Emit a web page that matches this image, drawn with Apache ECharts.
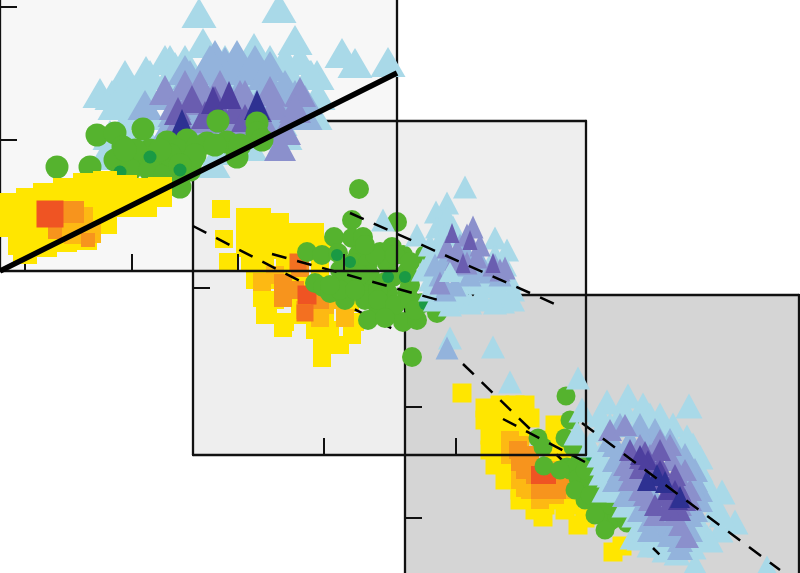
<!DOCTYPE html>
<html><head><meta charset="utf-8">
<style>html,body{margin:0;padding:0;background:#fff}#c{width:800px;height:573px}</style>
<script src="https://cdn.jsdelivr.net/npm/echarts@6/dist/echarts.min.js"></script>
</head><body><div id="c"></div>
<script>
// Panel 1 ticks
const p1XTicks=[25,132,238,344], p1YTicks=[131,264];
const p2XTicks=[131,263], p2YTicks=[167];
const p3XTicks=[], p3YTicks=[111,222];

// Panel 1 values
const p1Light=[[199,258],[279,263],[295,231],[342,218],[355,208],[388,209],[203,228],[254,223],[146,200],[100,178],[112,176],[317,196],[125,196],[150,196],[170,196],[190,196],[215,196],[240,196],[265,196],[290,196],[310,196],[130,176],[150,176],[175,176],[200,176],[225,176],[250,176],[280,176],[300,176],[318,176],[130,156],[150,156],[170,156],[195,156],[220,156],[245,156],[270,156],[300,156],[315,156],[110,136],[125,136],[145,136],[170,136],[195,136],[220,136],[250,136],[285,136],[110,121],[130,121],[160,121],[190,121],[220,121],[170,211],[185,211],[225,211],[270,211],[285,211],[300,211],[105,116],[213,108],[250,125],[280,150],[165,211],[175,204],[125,186],[135,181],[115,166],[130,166],[311,196]];
const p1Mid=[[237,201],[225,209],[190,196],[205,201],[250,201],[265,196],[165,176],[145,166],[190,181],[215,181],[240,181],[265,181],[285,186],[295,176],[305,171],[175,159],[200,163],[230,161],[260,166],[285,161],[305,156],[170,146],[195,146],[225,143],[250,143],[275,146],[237,216],[215,216],[185,201],[210,211],[255,211],[270,205]];
const p1Peri=[[165,181],[175,166],[190,171],[205,176],[220,186],[240,176],[300,179],[275,166],[295,163],[180,151],[205,153],[225,153],[250,159],[265,146],[240,141],[285,141],[185,186],[200,186],[210,161],[245,176],[270,180],[280,125]];
const p1Purple=[[192,172],[215,171],[205,156],[235,161],[258,163],[245,153],[178,160]];
const p1Deep=[[213,171],[229,176]];
const p1Dark=[[257,166],[182,147]];
const p1Green=[[97,136],[115,138],[143,142],[218,150],[257,148],[57,104],[90,104],[132,114],[123,124],[147,108],[167,129],[165,108],[187,131],[207,128],[227,129],[257,138],[262,131],[237,114],[192,111],[180,84],[120,108],[140,111],[177,121],[150,121],[197,124],[125,96],[180,96],[135,121],[115,111],[130,101],[150,101],[165,96],[190,101],[170,116],[195,116],[215,126],[240,126],[180,106],[160,121],[125,121]];
const p1GreenDark=[[150,114],[180,101],[120,99]];
const p1Yellow=[[10,66],[10,46],[20,28],[28,71],[28,51],[28,31],[25,19],[45,76],[45,56],[45,36],[45,26],[65,81],[65,61],[65,41],[65,31],[85,86],[85,66],[85,46],[85,33],[105,88],[105,68],[105,49],[125,84],[125,66],[145,81],[145,66],[160,82],[160,76]];
const p1Amber=[[82,53],[75,38],[90,39],[60,43]];
const p1Orange=[[73,59]];
const p1OrangeSmall=[[55,39],[88,31]];
const p1Red=[[50,57]];
const p1Boundary=[[0,0],[397,198]];

// Panel 2 values
const p2Yellow=[[28,246],[31,216],[35,193],[52,238],[69,238],[87,233],[52,223],[69,223],[87,221],[105,223],[122,223],[52,207],[69,207],[87,205],[105,207],[122,207],[132,208],[57,193],[72,193],[92,190],[107,190],[127,193],[62,175],[77,175],[92,175],[107,173],[127,175],[147,170],[69,157],[82,155],[97,157],[117,155],[137,155],[157,152],[75,142],[92,133],[107,140],[132,140],[152,140],[162,133],[122,125],[137,125],[159,120],[129,110],[147,110],[129,97],[90,127],[72,140]];
const p2Amber=[[69,173],[82,180],[97,165],[112,145],[132,150],[147,155],[127,137],[152,137]];
const p2Orange=[[90,172],[102,165],[90,157],[127,155],[107,187]];
const p2OrangeRed=[[105,193],[112,142]];
const p2Red=[[114,160]];
const p2Green=[[166,266],[159,235],[204,233],[141,218],[159,217],[170,218],[114,203],[129,200],[145,202],[165,200],[187,203],[199,208],[210,200],[160,192],[175,192],[194,192],[214,183],[122,172],[130,168],[137,162],[152,155],[154,172],[172,165],[172,155],[195,162],[214,162],[185,143],[199,145],[175,135],[210,133],[224,135],[244,142],[230,152],[219,98],[200,178],[177,180],[147,185],[217,170],[192,173],[232,200],[150,185],[167,180],[202,200],[217,193],[147,165],[162,165],[137,170],[185,165],[185,155],[202,150],[217,155],[192,137],[222,145],[182,200],[172,210]];
const p2GreenDark=[[195,178],[212,178],[232,151],[144,200],[157,193]];
const p2Light=[[272,268],[254,252],[243,243],[190,235],[224,220],[302,217],[314,205],[244,228],[254,238],[260,228],[237,195],[230,185],[237,175],[267,155],[290,155],[310,153],[320,165],[300,168],[284,172],[257,117],[300,108],[317,73],[385,77],[277,152],[302,152],[257,150],[247,160],[247,205],[247,215],[237,210],[242,155],[320,155],[287,160],[267,165],[307,165],[237,165],[317,175],[267,175],[297,175],[252,220],[312,190],[302,200]];
const p2Mid=[[254,107],[252,195],[272,205],[287,195],[302,190],[247,180],[262,170],[287,185],[307,180],[252,165],[262,190],[277,180],[297,183],[242,190],[267,210],[257,200]];
const p2Peri=[[280,228],[274,220],[254,208],[264,205],[284,198],[307,185],[300,190],[247,172],[274,192],[287,210],[262,195],[312,187]];
const p2Purple=[[259,222],[277,215],[270,192],[300,192]];
const p2LightTop=[[257,183]];
const p2LineA=[[0,229],[200,126]];
const p2LineB=[[79,201],[245,155]];
const p2LineC=[[157,242],[364,150]];

// Panel 3 values
const p3Yellow=[[57,236],[80,221],[95,224],[110,224],[120,224],[80,209],[95,209],[110,209],[125,211],[85,194],[100,192],[115,194],[85,179],[100,179],[150,204],[145,189],[90,164],[105,159],[100,149],[115,139],[115,129],[130,132],[130,119],[138,112],[160,119],[173,104],[165,124],[180,111],[170,139],[150,174],[165,169],[175,149],[140,124],[155,129],[185,119],[208,77],[217,83]];
const p3Amber=[[105,189],[115,184],[125,139],[140,139],[150,149],[155,159],[135,129],[115,149],[120,141],[105,174],[150,134],[160,139]];
const p3Orange=[[113,179],[125,174],[115,167],[120,159],[130,154],[135,139],[152,139],[155,149],[127,159]];
const p3Red=[[135,154],[142,154]];
const p3Green=[[161,233],[165,209],[160,191],[168,182],[133,191],[138,182],[139,163],[162,162],[170,162],[178,146],[182,132],[193,119],[203,106],[192,139],[198,129],[207,109],[212,112],[222,106],[185,161],[175,169],[185,174],[165,159],[173,151],[185,149],[195,139],[205,124],[215,117],[227,109],[180,129],[190,114],[200,99],[155,159],[180,159],[170,139],[185,134]];
const p3GreenDark=[[185,172]];
const p3Light=[[284,223],[223,233],[202,227],[238,224],[177,219],[255,214],[268,204],[282,192],[295,172],[317,137],[330,107],[290,64],[362,61],[172,196],[197,156],[198,166],[228,92],[235,91],[288,82],[302,92],[272,76],[195,214],[215,214],[235,209],[255,199],[195,199],[185,184],[275,179],[285,159],[300,149],[295,129],[310,119],[205,184],[195,174],[245,94],[255,84],[275,94],[315,99],[215,139],[230,114],[240,104],[205,204],[220,219],[245,214],[265,194],[288,184],[295,159],[305,134],[317,114],[295,104],[285,84],[260,79],[235,104],[220,124],[205,154],[200,139],[245,84],[270,84],[305,89]];
const p3Mid=[[215,204],[235,204],[250,199],[265,189],[280,174],[205,189],[220,174],[245,174],[210,149],[220,134],[235,119],[245,109],[260,99],[275,89],[285,99],[290,119],[295,139],[290,159],[285,134],[255,119],[245,139],[210,169],[210,184],[225,189],[240,189],[255,184],[270,174],[285,164],[290,149],[295,129],[285,114],[270,104],[255,109],[240,124],[225,139],[215,159],[230,159],[250,149],[270,134],[265,94],[275,81],[245,99]];
const p3Peri=[[205,199],[220,204],[245,174],[225,159],[235,139],[245,129],[260,119],[275,124],[285,139],[280,159],[265,184],[282,92],[225,149],[235,184],[255,189],[275,104],[235,169],[245,159],[260,149],[275,149],[285,129],[270,114],[250,114],[230,149],[220,164],[250,179],[267,169],[240,134]];
const p3Purple=[[225,179],[240,177],[255,164],[235,161],[270,154],[260,134],[275,139],[265,119],[250,124],[275,119],[245,164],[257,149],[263,124],[280,129],[235,171],[255,179],[267,139]];
const p3Deep=[[243,169],[255,159],[263,139],[273,129],[270,139],[235,174]];
const p3Dark=[[252,154],[242,149],[275,132],[260,147]];
const p3LineD=[[58,265],[257,72]];
const p3LineDTail=[[248,81],[257,72]];
const p3LineE=[[98,210],[180,167]];
const p3LineF=[[177,206],[375,59]];

const C={yellow:'#ffe600',amber:'#fdb913',orange:'#f7941d',orangeRed:'#f37021',red:'#ef5423',
 green:'#55b32e',greenDark:'#1a9a44',light:'#a9d9e8',mid:'#93b3dc',peri:'#8b90cc',purple:'#6a5db0',deep:'#4d3f9e',dark:'#2e3192'};

const panels=[
 {left:0,top:-63,width:397,height:334,bg:'#f7f7f7',gz:1,az:85,xt:p1XTicks,yt:p1YTicks},
 {left:193,top:121,width:393,height:334,bg:'#eeeeee',gz:2,az:40,xt:p2XTicks,yt:p2YTicks},
 {left:405,top:295,width:394,height:334,bg:'#d5d5d5',gz:3,az:10,xt:p3XTicks,yt:p3YTicks}
];
const grid=panels.map(p=>({show:true,outerBoundsMode:'none',left:p.left,top:p.top,width:p.width,height:p.height,backgroundColor:p.bg,borderWidth:0,z:p.gz}));
const ln={show:true,onZero:false,lineStyle:{color:'#111',width:2.3}};
const xAxis=[],yAxis=[];
panels.forEach((p,i)=>{
 ['bottom','top'].forEach(pos=>xAxis.push({type:'value',gridIndex:i,position:pos,min:0,max:p.width,z:p.az,axisLine:ln,splitLine:{show:false},axisLabel:{show:false},
  axisTick:pos==='bottom'?{show:true,inside:true,length:17,lineStyle:{color:'#111',width:2},customValues:p.xt}:{show:false}}));
 ['left','right'].forEach(pos=>yAxis.push({type:'value',gridIndex:i,position:pos,min:0,max:p.height,z:p.az,axisLine:ln,splitLine:{show:false},axisLabel:{show:false},
  axisTick:pos==='left'?{show:true,inside:true,length:17,lineStyle:{color:'#111',width:2},customValues:p.yt}:{show:false}}));
});
const series=[];
let z=0;
function sc(panel,data,symbol,size,color){
 series.push({type:'scatter',xAxisIndex:panel*2,yAxisIndex:panel*2,data,symbol,symbolSize:size,silent:true,z:z++,
  itemStyle:{color,opacity:1},animation:false});
}
function li(panel,data,width,dash,extra){
 series.push(Object.assign({type:'line',xAxisIndex:panel*2,yAxisIndex:panel*2,data,symbol:'none',silent:true,z:z++,animation:false,
  lineStyle:{color:'#000',width,type:dash,cap:'butt'}},extra||{}));
}
const T='triangle',S='rect',O='circle',D=[15,11];
// panel 3 (lowest)
z=11;
sc(2,p3Yellow,S,19,C.yellow);sc(2,p3Amber,S,18,C.amber);sc(2,p3Orange,S,18,C.orange);sc(2,p3Red,S,18,C.red);
li(2,p3LineD,2.5,D);
sc(2,p3Green,O,19,C.green);sc(2,p3GreenDark,O,8,C.greenDark);
sc(2,p3Light,T,[27,25],C.light);sc(2,p3Mid,T,[26,24],C.mid);sc(2,p3Peri,T,[24,22],C.peri);sc(2,p3Purple,T,[22,22],C.purple);sc(2,p3Deep,T,[20,20],C.deep);sc(2,p3Dark,T,[20,22],C.dark);
li(2,p3LineE,2.5,D);li(2,p3LineF,2.5,D);li(2,p3LineDTail,2.5,[9,4]);
// panel 2
z=41;
sc(1,p2Yellow,S,18,C.yellow);sc(1,p2Amber,S,18,C.amber);sc(1,p2Orange,S,18,C.orange);sc(1,p2OrangeRed,S,17,C.orangeRed);sc(1,p2Red,S,19,C.red);
li(1,p2LineA,2.5,D);
sc(1,p2Green,O,20,C.green);sc(1,p2GreenDark,O,12,C.greenDark);
sc(1,p2Light,T,[24,23],C.light);sc(1,p2Mid,T,[23,23],C.mid);sc(1,p2Peri,T,[21,23],C.peri);sc(1,p2Purple,T,[15,20],C.purple);sc(1,p2LightTop,T,[22,20],C.light);
li(1,p2LineB,2.5,D);li(1,p2LineC,2.5,D);
// panel 1 (top)
z=80;
li(0,p1Boundary,0,'solid',{areaStyle:{origin:'end',color:'#f7f7f7',opacity:1},lineStyle:{width:0,opacity:0}});
z=90;
sc(0,p1Light,T,[35,30],C.light);sc(0,p1Mid,T,[35,30],C.mid);sc(0,p1Peri,T,[32,30],C.peri);sc(0,p1Purple,T,[28,28],C.purple);sc(0,p1Deep,T,[24,28],C.deep);sc(0,p1Dark,T,[26,30],C.dark);
sc(0,p1Green,O,23,C.green);sc(0,p1GreenDark,O,13,C.greenDark);
sc(0,p1Yellow,S,24,C.yellow);sc(0,p1Amber,S,22,C.amber);sc(0,p1Orange,S,22,C.orange);sc(0,p1OrangeSmall,S,14,C.orange);sc(0,p1Red,S,27,C.red);
li(0,p1Boundary,5.5,'solid');

const chart=echarts.init(document.getElementById('c'),null,{renderer:'canvas'});
chart.setOption({animation:false,backgroundColor:'#fff',grid,xAxis,yAxis,series});
</script></body></html>
